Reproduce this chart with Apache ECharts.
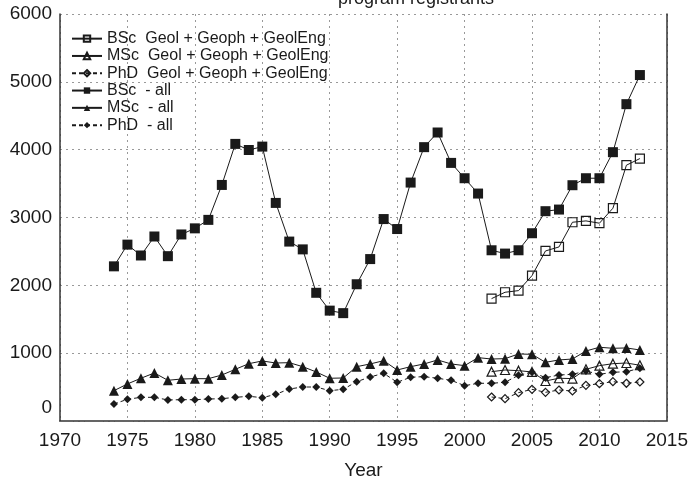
<!DOCTYPE html>
<html>
<head>
<meta charset="utf-8">
<script src="https://cdn.jsdelivr.net/npm/echarts@6/dist/echarts.min.js"></script>
<style>
  html, body { margin: 0; padding: 0; background: #fff; }
  #chart { width: 691px; height: 485px; }
</style>
</head>
<body>
<div id="chart"></div>
<script>
// years covered by each group of series
const yearsAll = []
for (let y = 1974; y <= 2013; y++) yearsAll.push(y)
const yearsGeol = []
for (let y = 2002; y <= 2013; y++) yearsGeol.push(y)

// all programs, 1974 - 2013
const bscAll = [
  2280, 2600, 2440, 2720, 2430, 2750, 2840, 2965, 3480, 4085,
  3995, 4045, 3215, 2645, 2530, 1890, 1627, 1590, 2016, 2387,
  2977, 2830, 3515, 4037, 4253, 3805, 3579, 3353, 2517, 2468,
  2517, 2768, 3093, 3117, 3476, 3579, 3579, 3963, 4671, 5100
]
const mscAll = [
  447, 546, 630, 708, 600, 619, 624, 624, 678, 762,
  845, 885, 855, 860, 801, 723, 630, 634, 801, 841,
  889, 752, 801, 841, 900, 841, 816, 934, 914, 919,
  988, 983, 865, 900, 914, 1032, 1087, 1072, 1077, 1047
]
const phdAll = [
  251, 320, 349, 349, 310, 314, 314, 324, 329, 349,
  364, 344, 393, 472, 501, 501, 447, 467, 580, 649,
  703, 571, 645, 654, 630, 600, 521, 556, 556, 571,
  674, 720, 639, 678, 688, 737, 688, 718, 727, 777
]

// Geol + Geoph + GeolEng, 2002 - 2013
const bscGeol = [1804, 1898, 1922, 2143, 2507, 2566, 2930, 2950, 2916, 3137, 3771, 3869]
const mscGeol = [727, 752, 742, 723, 590, 630, 625, 762, 816, 845, 855, 822]
const phdGeol = [354, 329, 418, 467, 423, 457, 442, 526, 550, 580, 556, 575]

const yTicks = [0, 1000, 2000, 3000, 4000, 5000, 6000]
const xTicks = [1970, 1975, 1980, 1985, 1990, 1995, 2000, 2005, 2010, 2015]

const names = [
  'BSc  Geol + Geoph + GeolEng',
  'MSc  Geol + Geoph + GeolEng',
  'PhD  Geol + Geoph + GeolEng',
  'BSc  - all',
  'MSc  - all',
  'PhD  - all'
]

const ink = '#1a1a1a'
const font = 'Liberation Sans, Arial, sans-serif'

const pairs = (years, vals) => years.map((y, i) => [y, vals[i]])

function makeSeries (name, years, vals, symbol, size, filled, dashed) {
  return {
    name: name,
    type: 'line',
    data: pairs(years, vals),
    symbol: symbol,
    symbolSize: size,
    showSymbol: true,
    animation: false,
    lineStyle: { color: ink, width: 1, type: dashed ? [4, 3] : 'solid' },
    itemStyle: {
      color: filled ? ink : 'rgba(255,255,255,0)',
      borderColor: ink,
      borderWidth: filled ? 0 : 1.2
    },
    z: filled ? 3 : 4
  }
}

const chart = echarts.init(document.getElementById('chart'))

const option = {
  backgroundColor: '#fff',
  animation: false,
  // title is cut off at the top edge of the picture
  graphic: [{
    type: 'text',
    x: 416,
    y: -1,
    style: {
      text: 'program registrants',
      align: 'center',
      verticalAlign: 'middle',
      font: '18px ' + font,
      fill: ink
    }
  }],
  legend: {
    orient: 'vertical',
    left: 66,
    top: 25,
    itemWidth: 30,
    itemHeight: 8,
    itemGap: 0,
    data: names,
    textStyle: { fontFamily: font, fontSize: 16, color: ink, lineHeight: 17.3 }
  },
  grid: { left: 60, right: 19, top: 14, bottom: 64 },
  xAxis: [
    {
      type: 'value',
      min: xTicks[0],
      max: xTicks[xTicks.length - 1],
      interval: 5,
      name: 'Year',
      nameLocation: 'middle',
      nameGap: 40,
      nameTextStyle: { fontFamily: font, fontSize: 19, color: ink },
      axisLine: { show: true, lineStyle: { color: '#333', width: 1.5 } },
      axisTick: { show: false },
      axisLabel: { fontFamily: font, fontSize: 19, color: ink, margin: 10, formatter: v => String(v) },
      splitLine: { show: true, lineStyle: { color: '#999', type: [2, 4], width: 1 } }
    },
    {
      type: 'value',
      position: 'top',
      min: xTicks[0],
      max: xTicks[xTicks.length - 1],
      axisLine: { show: true, lineStyle: { color: '#666', type: [3, 2], width: 1 } },
      axisTick: { show: false },
      axisLabel: { show: false },
      splitLine: { show: false }
    }
  ],
  yAxis: [
    {
      type: 'value',
      min: yTicks[0],
      max: yTicks[yTicks.length - 1],
      interval: 1000,
      axisLine: { show: true, lineStyle: { color: '#333', width: 1.5 } },
      axisTick: { show: false },
      axisLabel: {
        fontFamily: font,
        fontSize: 19,
        color: ink,
        margin: 8,
        formatter: v => (v === 0 ? '{z|0}' : String(v)),
        rich: { z: { fontFamily: font, fontSize: 19, color: ink, padding: [0, 0, 26, 0] } }
      },
      splitLine: { show: true, lineStyle: { color: '#999', type: [2, 4], width: 1 } }
    },
    {
      type: 'value',
      position: 'right',
      min: yTicks[0],
      max: yTicks[yTicks.length - 1],
      axisLine: { show: true, lineStyle: { color: '#333', width: 1.5 } },
      axisTick: { show: false },
      axisLabel: { show: false },
      splitLine: { show: false }
    }
  ],
  series: [
    makeSeries(names[0], yearsGeol, bscGeol, 'rect', 9, false, false),
    makeSeries(names[1], yearsGeol, mscGeol, 'triangle', 9, false, false),
    makeSeries(names[2], yearsGeol, phdGeol, 'diamond', 8, false, true),
    makeSeries(names[3], yearsAll, bscAll, 'rect', 10, true, false),
    makeSeries(names[4], yearsAll, mscAll, 'triangle', 10, true, false),
    makeSeries(names[5], yearsAll, phdAll, 'diamond', 8, true, true)
  ]
}

chart.setOption(option)
</script>
</body>
</html>
